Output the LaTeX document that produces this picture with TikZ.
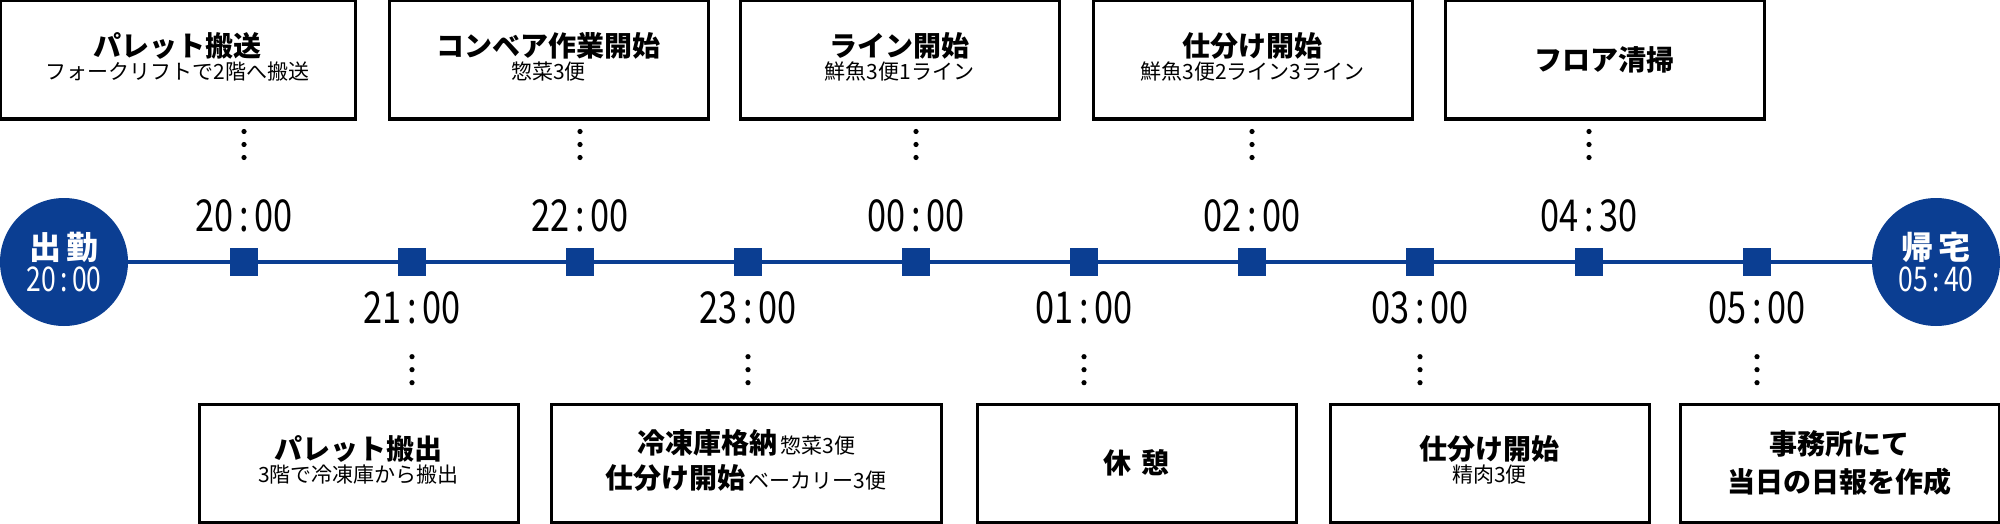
\documentclass[tikz,border=0pt]{standalone}
\usepackage{fontspec}
\setmainfont{Noto Sans CJK JP}
\usepackage{graphicx}
\usetikzlibrary{calc,positioning}
\definecolor{shiftblue}{HTML}{0B3E92}
\newcommand{\clock}[2][22pt]{\scalebox{0.78}[1]{\fontsize{#1}{#1}\selectfont #2}}
\tikzset{
  taskbox/.style={draw, line width=1.5pt, minimum width=159.5pt, minimum height=59pt,
    inner sep=0pt, align=center},
  stamp/.style={fill=shiftblue, minimum size=14pt, inner sep=0pt},
  endpoint/.style={circle, fill=shiftblue, minimum size=64pt, inner sep=0pt,
    text=white, align=center},
  timelbl/.style={inner sep=0pt},
  dotline/.style={line width=2.6pt, line cap=round, dash pattern=on 0pt off 6.5pt},
  ttl/.style={font=\fontsize{14pt}{17pt}\selectfont\bfseries},
}
\newcommand{\sub}[1]{{\fontsize{10.5pt}{13pt}\selectfont #1}}

\begin{document}
\begin{tikzpicture}[x=0.5pt, y=-0.5pt]
  \useasboundingbox (0,0) rectangle (2000,524);
  % start and end of the shift
  \node[endpoint] (start) at (64,262)
    {{\fontsize{16pt}{18pt}\selectfont\bfseries 出\,勤}\\[1pt]\clock[17pt]{20\,:\,00}};
  \node[endpoint] (finish) at (1936,262)
    {{\fontsize{16pt}{18pt}\selectfont\bfseries 帰\,宅}\\[1pt]\clock[17pt]{05\,:\,40}};
  \draw[shiftblue, line width=2.2pt] (start) -- (finish);
  % hour marks
  \foreach \i/\x in {1/244,2/412,3/580,4/748,5/916,6/1084,7/1252,8/1420,9/1589,10/1757}
    \node[stamp] (s\i) at (\x,262) {};
  % times above / below the line
  \foreach \i/\t in {1/20,3/22,5/00,7/02}
    \node[timelbl] (t\i) at ($(s\i)+(0,-46)$) {\clock{\t\,:\,00}};
  \node[timelbl] (t9) at ($(s9)+(0,-46)$) {\clock{04\,:\,30}};
  \foreach \i/\t in {2/21,4/23,6/01,8/03,10/05}
    \node[timelbl] (t\i) at ($(s\i)+(0,46)$) {\clock{\t\,:\,00}};
  % tasks above
  \node[taskbox, minimum width=177.5pt] (tb1) at (177.5,60)
    {\begin{tabular}{c}\textbf{\fontsize{14pt}{17pt}\selectfont パレット搬送}\\[-1pt]\sub{フォークリフトで2階へ搬送}\end{tabular}};
  \node[taskbox] (tb3) at (548.5,60)
    {\begin{tabular}{c}\textbf{\fontsize{14pt}{17pt}\selectfont コンベア作業開始}\\[-1pt]\sub{惣菜3便}\end{tabular}};
  \node[taskbox] (tb5) at (899.5,60)
    {\begin{tabular}{c}\textbf{\fontsize{14pt}{17pt}\selectfont ライン開始}\\[-1pt]\sub{鮮魚3便1ライン}\end{tabular}};
  \node[taskbox] (tb7) at (1252.5,60)
    {\begin{tabular}{c}\textbf{\fontsize{14pt}{17pt}\selectfont 仕分け開始}\\[-1pt]\sub{鮮魚3便2ライン3ライン}\end{tabular}};
  \node[taskbox, ttl] (tb9) at (1604.5,60) {フロア清掃};
  % tasks below
  \node[taskbox] (tb2) at (358.5,463)
    {\begin{tabular}{c}\textbf{\fontsize{14pt}{17pt}\selectfont パレット搬出}\\[-1pt]\sub{3階で冷凍庫から搬出}\end{tabular}};
  \node[taskbox, minimum width=195pt] (tb4) at (746,463)
    {\begin{tabular}{c}\textbf{\fontsize{14pt}{17pt}\selectfont 冷凍庫格納}\,\sub{惣菜3便}\\[2pt]\textbf{\fontsize{14pt}{17pt}\selectfont 仕分け開始}\,\sub{ベーカリー3便}\end{tabular}};
  \node[taskbox, ttl] (tb6) at (1136.5,463) {休\,\,憩};
  \node[taskbox] (tb8) at (1489.5,463)
    {\begin{tabular}{c}\textbf{\fontsize{14pt}{17pt}\selectfont 仕分け開始}\\[-1pt]\sub{精肉3便}\end{tabular}};
  \node[taskbox, ttl] (tb10) at (1839.5,463) {事務所にて\\[2pt]当日の日報を作成};
  % dotted leaders
  \foreach \i in {1,3,5,7,9}
    \draw[dotline, shorten <=5.5pt, shorten >=16pt] (tb\i.south -| s\i) -- (t\i);
  \foreach \i in {2,4,6,8,10}
    \draw[dotline, shorten <=16pt, shorten >=6.5pt] (t\i) -- (tb\i.north -| s\i);
\end{tikzpicture}
\end{document}
